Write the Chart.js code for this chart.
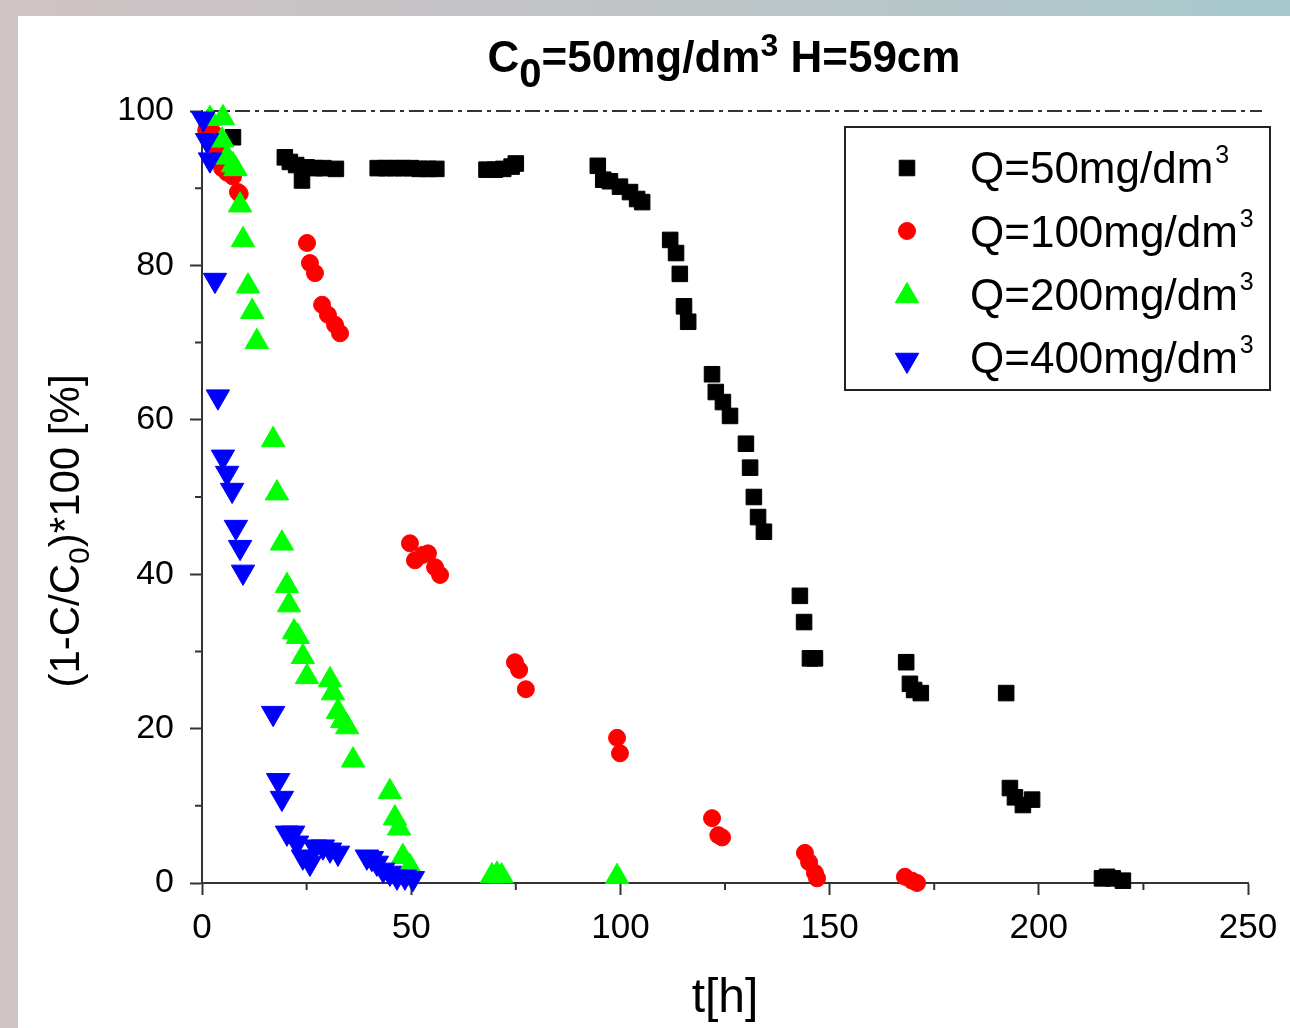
<!DOCTYPE html>
<html>
<head>
<meta charset="utf-8">
<script src="https://cdn.jsdelivr.net/npm/chart.js@4.4.0/dist/chart.umd.min.js"></script>
<style>
  html, body { margin: 0; padding: 0; }
  body {
    width: 1290px; height: 1028px; overflow: hidden; position: relative;
    background: linear-gradient(to right, #cfc3c5 0%, #c0c4c6 50%, #a7c9cc 100%);
  }
  .paper { position: absolute; left: 18px; top: 16px; right: 0; bottom: 0; background: #fff; }
  #chart { position: absolute; left: 0; top: 0; }
</style>
</head>
<body>
<div class="paper"></div>
<canvas id="chart" width="1290" height="1028"></canvas>
<script>
// t[h] and (1-C/C0)*100, one pair of arrays per flow
const tQ50 = [7.4, 19.8, 21, 22.5, 23.9, 25, 27, 29, 32, 42, 44, 46, 48, 50, 52, 54, 56, 68, 70, 72, 74, 75,
  94.6, 95.9, 97.5, 99.9, 102.3, 104, 105.2, 111.9, 113.3, 114.2, 115.2, 116.2, 121.9, 122.8, 124.5, 126.2,
  130, 131, 131.9, 132.9, 134.3, 142.9, 143.9, 145.3, 146.5, 168.3, 169.2, 170.2, 171.8, 192.2, 193.1, 194.3,
  196.2, 198.4, 215.1, 216.3, 217.7, 220.1];
const yQ50 = [96.6, 94, 93.4, 93, 91, 92.7, 92.6, 92.6, 92.5, 92.6, 92.6, 92.6, 92.6, 92.6, 92.5, 92.5, 92.5, 92.4, 92.4, 92.5, 92.8, 93.2,
  92.9, 91.1, 90.9, 90.2, 89.5, 88.6, 88.2, 83.3, 81.6, 78.9, 74.7, 72.7, 65.9, 63.6, 62.3, 60.5,
  56.9, 53.8, 50, 47.4, 45.5, 37.2, 33.8, 29.1, 29.1, 28.6, 25.8, 25, 24.6, 24.6, 12.3, 11.1,
  10.1, 10.8, 0.6, 0.8, 0.6, 0.3];

const tQ100 = [1, 2, 3, 3.6, 4.8, 6, 7.4, 8.6, 9, 25.1, 25.8, 27, 28.7, 30.1, 31.8, 33, 49.7, 50.9, 52.8, 54, 55.7, 56.9,
  74.8, 75.8, 77.4, 99.2, 99.9, 121.9, 123.4, 124.3, 144.1, 145.1, 146.5, 147, 168, 169.7, 170.9];
const yQ100 = [97.5, 97.8, 97, 95, 92.6, 92, 91.5, 89.5, 89.3, 82.9, 80.3, 79, 74.9, 73.6, 72.3, 71.2, 44, 41.8, 42.5, 42.7, 40.9, 39.9,
  28.6, 27.6, 25.1, 18.8, 16.8, 8.4, 6.2, 5.9, 3.9, 2.7, 1.3, 0.6, 0.8, 0.3, 0];

const tQ200 = [1.9, 5, 4.8, 6, 7.4, 8, 9.1, 9.8, 11, 12, 13.1, 17, 17.9, 19.1, 20.3, 20.8, 22, 22.9, 24.1, 25.1,
  30.6, 31.3, 32.5, 33.5, 34.7, 36.1, 44.9, 46.1, 47.1, 48, 49.7, 69.3, 70.5, 71.6, 99.2];
const yQ200 = [99, 99.1, 96.2, 94, 93, 92.5, 87.8, 83.3, 77.3, 74, 70.1, 57.4, 50.5, 44, 38.5, 36, 32.5, 31.9, 29.3, 26.7,
  26.3, 24.6, 22.2, 21, 20.2, 15.9, 11.8, 8.4, 7.1, 3.4, 2.1, 0.9, 1.1, 0.9, 0.8];

const tQ400 = [0.3, 1.2, 1.9, 3.1, 3.8, 5, 6, 7.2, 8.1, 9.1, 9.8, 17, 18.2, 19.1, 20.3, 21.8, 22.7, 24.1, 25.8,
  27, 28.9, 30.6, 32.5, 39.4, 40.6, 41.8, 43.3, 44.9, 46.6, 48.5, 50.4];
const yQ400 = [99, 96.2, 93.7, 78.1, 63, 55.2, 53.1, 50.9, 46.1, 43.5, 40.3, 22, 13.3, 11, 6.5, 6.5, 5.2, 3.4, 2.6,
  4.7, 4.7, 4.3, 3.9, 3.4, 3.2, 2.6, 1.7, 1.3, 0.8, 0.8, 0.6];

const seriesNames = ['Q=50mg/dm', 'Q=100mg/dm', 'Q=200mg/dm', 'Q=400mg/dm'];
const xTicks = [0, 50, 100, 150, 200, 250];
const yTicks = [0, 20, 40, 60, 80, 100];

const pts = (t, y) => t.map((v, i) => ({ x: v, y: y[i] }));
const font = 'Liberation Sans, Arial, sans-serif';

const sets = [
  { label: seriesNames[0], data: pts(tQ50, yQ50), pointStyle: 'rect', pointRadius: 11, color: '#000000', order: 4 },
  { label: seriesNames[1], data: pts(tQ100, yQ100), pointStyle: 'circle', pointRadius: 8.5, color: '#ff0000', order: 3 },
  { label: seriesNames[2], data: pts(tQ200, yQ200), pointStyle: 'triangle', pointRadius: 13.5, color: '#00ff00', order: 2 },
  { label: seriesNames[3], data: pts(tQ400, yQ400), pointStyle: 'triangle', pointRadius: 13.5, rotation: 180, color: '#0000ff', order: 1 }
].map(s => ({
  label: s.label,
  data: s.data,
  pointStyle: s.pointStyle,
  pointRadius: s.pointRadius,
  pointHoverRadius: s.pointRadius,
  pointRotation: s.rotation || 0,
  backgroundColor: s.color,
  borderColor: s.color,
  pointBorderWidth: 1,
  showLine: false,
  clip: false,
  order: s.order
}));

// draw a run of text pieces with their own size / offset (sub & superscripts)
function richText(ctx, parts, x, y, bold) {
  const w = bold ? 'bold ' : '';
  let total = 0;
  parts.forEach(p => { ctx.font = w + p.s + 'px ' + font; p.w = ctx.measureText(p.t).width; total += p.w; });
  let cx = x - total / 2;
  ctx.textAlign = 'left';
  ctx.textBaseline = 'alphabetic';
  parts.forEach(p => {
    ctx.font = w + p.s + 'px ' + font;
    ctx.fillText(p.t, cx, y + (p.dy || 0));
    cx += p.w;
  });
}

const decor = {
  id: 'decor',
  beforeDatasetsDraw(chart) {
    const { ctx, chartArea, scales } = chart;
    ctx.save();
    // dash-dot line at 100 %
    const y100 = scales.y.getPixelForValue(100);
    ctx.strokeStyle = '#333';
    ctx.lineWidth = 2;
    ctx.setLineDash([15, 5, 4, 5]);
    ctx.beginPath();
    ctx.moveTo(chartArea.left + 4, y100);
    ctx.lineTo(chartArea.right + 14, y100);
    ctx.stroke();
    ctx.setLineDash([]);
    // short minor ticks
    ctx.beginPath();
    for (let v = 25; v < 250; v += 50) {
      const px = scales.x.getPixelForValue(v);
      ctx.moveTo(px, chartArea.bottom);
      ctx.lineTo(px, chartArea.bottom + 7);
    }
    for (let v = 10; v < 100; v += 20) {
      const py = scales.y.getPixelForValue(v);
      ctx.moveTo(chartArea.left, py);
      ctx.lineTo(chartArea.left - 7, py);
    }
    ctx.stroke();
    ctx.restore();
  },
  afterDraw(chart) {
    const { ctx } = chart;
    ctx.save();
    ctx.fillStyle = '#000';
    // title
    richText(ctx, [
      { t: 'C', s: 44 }, { t: '0', s: 40, dy: 15 }, { t: '=50mg/dm', s: 44 },
      { t: '3', s: 32, dy: -16 }, { t: ' H=59cm', s: 44 }
    ], 724, 72, true);
    // y axis title
    ctx.save();
    ctx.translate(79, 531);
    ctx.rotate(-Math.PI / 2);
    richText(ctx, [{ t: '(1-C/C', s: 42 }, { t: '0', s: 30, dy: 10 }, { t: ')*100 [%]', s: 42 }], 0, 0, false);
    ctx.restore();
    // legend
    ctx.strokeStyle = '#222';
    ctx.lineWidth = 2;
    ctx.strokeRect(845, 127, 425, 263);
    const markY = [168, 231, 296, 360];
    const baseY = [183, 247, 310, 373];
    chart.data.datasets.forEach((ds, i) => {
      ctx.fillStyle = ds.backgroundColor;
      ctx.strokeStyle = ds.borderColor;
      ctx.lineWidth = 1;
      Chart.helpers.drawPoint(ctx, {
        pointStyle: ds.pointStyle, radius: ds.pointRadius, rotation: ds.pointRotation, borderWidth: 1
      }, 907, markY[i]);
      ctx.fillStyle = '#000';
      ctx.textAlign = 'left';
      ctx.textBaseline = 'alphabetic';
      ctx.font = '44px ' + font;
      ctx.fillText(ds.label, 970, baseY[i]);
      const w = ctx.measureText(ds.label).width;
      ctx.font = '25px ' + font;
      ctx.fillText('3', 972 + w, baseY[i] - 20);
    });
    ctx.restore();
  }
};

new Chart(document.getElementById('chart'), {
  type: 'scatter',
  data: { datasets: sets },
  plugins: [decor],
  options: {
    responsive: false,
    animation: false,
    layout: { padding: { top: 111, right: 42, bottom: 0, left: 0 } },
    plugins: { legend: { display: false }, tooltip: { enabled: false } },
    scales: {
      x: {
        type: 'linear', min: 0, max: 250,
        afterFit: s => { s.height = 145; },
        border: { color: '#333', width: 2 },
        grid: {
          drawOnChartArea: false, tickLength: 12, tickWidth: 2,
          tickColor: c => (c.tick && xTicks.indexOf(c.tick.value) < 0) ? 'rgba(0,0,0,0)' : '#333'
        },
        ticks: {
          stepSize: 25, autoSkip: false, maxRotation: 0, padding: 12, color: '#000',
          font: { family: font, size: 35 },
          callback: v => xTicks.indexOf(v) >= 0 ? v : ''
        },
        title: { display: true, text: 't[h]', color: '#000', font: { family: font, size: 48 }, padding: 0 }
      },
      y: {
        type: 'linear', min: 0, max: 100,
        afterFit: s => { s.width = 202; },
        border: { color: '#333', width: 2 },
        grid: {
          drawOnChartArea: false, tickLength: 12, tickWidth: 2,
          tickColor: c => (c.tick && yTicks.indexOf(c.tick.value) < 0) ? 'rgba(0,0,0,0)' : '#333'
        },
        ticks: {
          stepSize: 10, autoSkip: false, padding: 16, color: '#000',
          font: { family: font, size: 34 },
          callback: v => yTicks.indexOf(v) >= 0 ? v : ''
        }
      }
    }
  }
});
</script>
</body>
</html>
